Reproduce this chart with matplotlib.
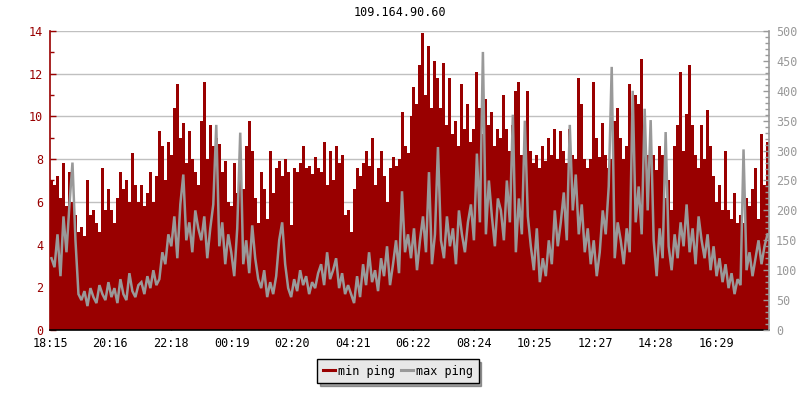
import numpy as np
import matplotlib
matplotlib.use("Agg")
import matplotlib.pyplot as plt
from matplotlib.ticker import MultipleLocator
from matplotlib.lines import Line2D

plt.rcParams['font.family'] = ['DejaVu Sans Mono']

title = "109.164.90.60"
tick_labels = ["18:15", "20:16", "22:18", "00:19", "02:20", "04:21",
               "06:22", "08:24", "10:25", "12:27", "14:28", "16:29"]
span_minutes = 1440

# min ping (left axis), 240 samples over 24 h
min_ping = [
    7.0, 6.8, 7.2, 6.2, 7.8, 5.8, 7.4, 6.0, 5.4, 4.6,
    4.8, 4.4, 7.0, 5.4, 5.6, 5.0, 4.6, 7.6, 5.6, 6.6,
    5.6, 5.0, 6.2, 7.4, 6.6, 7.0, 6.0, 8.3, 6.8, 6.0,
    6.8, 5.8, 6.4, 7.4, 6.0, 7.2, 9.3, 8.6, 7.0, 8.8,
    8.2, 10.4, 11.5, 9.0, 9.7, 7.8, 9.3, 8.0, 7.4, 6.8,
    9.8, 11.6, 8.0, 9.6, 8.6, 9.0, 8.7, 7.4, 7.9, 6.0,
    5.8, 7.8, 6.4, 7.0, 6.6, 8.6, 9.8, 8.4, 6.2, 5.0,
    7.4, 6.6, 5.2, 8.4, 6.4, 7.6, 7.9, 7.2, 8.0, 7.4,
    4.9, 7.6, 7.4, 7.8, 8.6, 7.6, 7.7, 7.3, 8.1, 7.6,
    7.4, 8.8, 6.8, 8.4, 7.0, 8.6, 7.8, 8.2, 5.4, 5.6,
    4.6, 6.6, 7.6, 7.2, 7.8, 8.4, 7.7, 9.0, 6.8, 7.6,
    8.4, 7.2, 6.0, 7.6, 8.1, 7.7, 8.0, 10.2, 8.6, 8.3,
    10.0, 11.4, 10.6, 12.4, 13.9, 11.0, 13.3, 10.4, 12.6, 11.8,
    10.4, 12.5, 9.6, 11.8, 9.2, 9.8, 8.6, 11.5, 9.4, 10.6,
    8.8, 9.4, 12.1, 10.4, 9.2, 10.8, 9.6, 10.2, 8.6, 9.4,
    9.0, 11.0, 9.4, 8.4, 9.6, 11.2, 11.6, 8.2, 8.3, 11.2,
    8.4, 7.8, 8.2, 7.6, 8.6, 7.9, 9.0, 8.2, 9.4, 8.0,
    9.3, 8.4, 7.8, 9.4, 8.2, 8.0, 11.8, 10.6, 8.0, 7.6,
    8.0, 11.6, 9.0, 8.1, 9.7, 8.2, 7.6, 8.0, 9.8, 10.4,
    9.0, 8.0, 8.6, 11.5, 9.2, 11.0, 10.6, 12.7, 9.0, 8.2,
    7.8, 8.2, 7.5, 8.6, 8.2, 6.2, 7.0, 5.6, 8.6, 9.6,
    12.1, 8.4, 10.1, 12.4, 9.6, 8.2, 7.6, 9.6, 8.0, 10.3,
    8.6, 7.2, 6.0, 6.8, 5.6, 8.4, 5.6, 5.2, 6.4, 5.0,
    5.4, 5.0, 6.2, 5.8, 6.6, 7.6, 5.2, 9.2, 6.8, 8.8,
]

# max ping (right axis), 240 samples over 24 h
max_ping = [
    120, 105, 160, 90, 190, 130, 210, 280, 150, 60,
    50, 65, 40, 70, 55, 45, 75, 60, 50, 80,
    55, 70, 45, 85, 60, 50, 95, 65, 55, 75,
    80, 60, 90, 70, 100, 75, 85, 130, 110, 160,
    140, 190, 120, 210, 260, 150, 180, 130, 200, 170,
    150, 190, 120, 170, 210, 343, 140, 180, 110, 160,
    130, 90, 170, 330, 110, 150, 95, 175, 120, 85,
    70, 100, 55, 80, 60, 90, 150, 180, 110, 70,
    55, 85, 65, 100, 75, 90, 60, 80, 70, 95,
    110, 75, 130, 85, 100, 120, 70, 95, 60, 75,
    60, 45, 90, 55, 110, 75, 130, 80, 100, 65,
    120, 90, 140, 75, 110, 150, 95, 232, 130, 160,
    120, 170, 100, 150, 190, 130, 264, 110, 160, 306,
    150, 120, 190, 140, 170, 110, 200, 160, 130, 180,
    210, 150, 295, 180, 465, 160, 250, 190, 140, 220,
    200, 150, 250, 180, 360, 130, 220, 160, 350, 190,
    140, 100, 170, 80, 120, 90, 150, 110, 200, 140,
    180, 230, 150, 343, 200, 260, 160, 210, 130, 170,
    110, 150, 90, 130, 200, 160, 240, 440, 120, 180,
    150, 110, 170, 130, 400, 180, 240, 160, 370, 200,
    351, 150, 90, 170, 120, 331, 140, 100, 160, 120,
    180, 140, 210, 130, 170, 110, 190, 150, 120, 160,
    100, 140, 90, 120, 80, 110, 70, 95, 60, 85,
    75, 302, 100, 130, 90, 120, 150, 110, 140, 160,
]

RED = "#990000"
GRAY = "#999999"

def tmin(label):
    h, m = map(int, label.split(":"))
    t = h * 60 + m - (18 * 60 + 15)
    return t % 1440

tick_pos = [tmin(l) for l in tick_labels]

n = len(min_ping)
edges = np.linspace(0, span_minutes, n + 1)
centers = (edges[:-1] + edges[1:]) / 2
mn = np.append(min_ping, min_ping[-1])

fig = plt.figure(figsize=(8, 4), dpi=100)
ax = fig.add_axes([50 / 800, 1 - 330 / 400, 719 / 800, 299 / 400])
ax2 = ax.twinx()

ax.fill_between(edges, 0, mn, step="post", color=RED, linewidth=0,
                antialiased=False, zorder=2)
ax2.plot(centers, max_ping, color=GRAY, linewidth=1.8, zorder=3,
         solid_joinstyle="miter")

ax.set_xlim(0, span_minutes)
ax.set_ylim(0, 14)
ax2.set_ylim(0, 500)

ax.set_xticks(tick_pos)
ax.set_xticklabels(tick_labels)
ax.yaxis.set_major_locator(MultipleLocator(2))
ax.yaxis.set_minor_locator(MultipleLocator(1))
ax2.yaxis.set_major_locator(MultipleLocator(50))
ax2.yaxis.set_minor_locator(MultipleLocator(10))

ax.grid(axis="y", color="#c0c0c0", linewidth=1.0, zorder=0)
ax.set_axisbelow(True)

for a in (ax, ax2):
    a.spines["top"].set_visible(False)
ax.spines["right"].set_visible(False)
ax2.spines["left"].set_visible(False)
ax2.spines["bottom"].set_visible(False)
ax.spines["left"].set_color(RED)
ax.spines["left"].set_linewidth(1.2)
ax.spines["bottom"].set_color("black")
ax.spines["bottom"].set_linewidth(1.2)
ax2.spines["right"].set_color(GRAY)
ax2.spines["right"].set_linewidth(1.2)

ax.tick_params(axis="x", direction="in", length=4, width=1, colors="black",
               labelsize=8.5, pad=5)
ax.tick_params(axis="y", which="major", direction="in", length=4, width=1,
               colors=RED, labelsize=8.5, pad=5)
ax.tick_params(axis="y", which="minor", direction="in", length=3, width=1,
               colors=RED)
ax2.tick_params(axis="y", which="major", direction="in", length=4, width=1,
                colors=GRAY, labelsize=8.5, pad=5)
ax2.tick_params(axis="y", which="minor", direction="in", length=3, width=1,
                colors=GRAY)

fig.text(0.5, 1 - 13 / 400, title, ha="center", va="center", fontsize=8.5)

handles = [Line2D([0], [0], color=RED, lw=2.2),
           Line2D([0], [0], color=GRAY, lw=2.2)]
leg = fig.legend(handles, ["min ping", "max ping"], loc="center",
                 bbox_to_anchor=(398 / 800, 1 - 371 / 400), ncol=2,
                 fontsize=8.5, frameon=True, fancybox=False, shadow=True,
                 handlelength=1.0, handletextpad=0.3, columnspacing=0.5,
                 borderpad=0.45, borderaxespad=0)
leg.get_frame().set_facecolor("#e8e8e8")
leg.get_frame().set_edgecolor("black")
leg.get_frame().set_alpha(1)

fig.savefig("out.png", dpi=100)
